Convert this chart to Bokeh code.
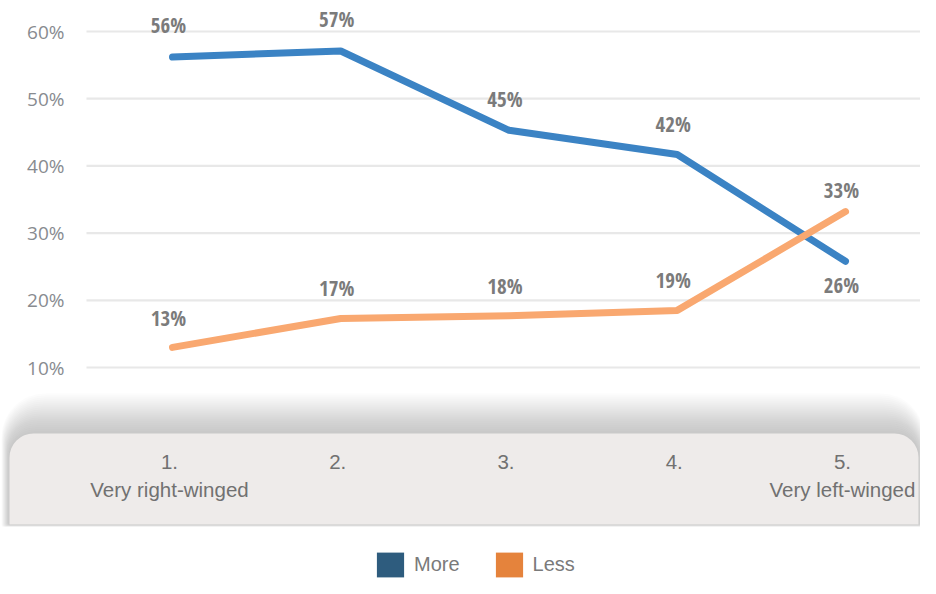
from bokeh.plotting import figure
from bokeh.models import ColumnDataSource, Range1d, BoxAnnotation, Legend, LegendItem
from bokeh.core.properties import value
from bokeh.embed import file_html
from bokeh.resources import INLINE

# ---- data ----
categories = [1, 2, 3, 4, 5]
x_tick_labels = ["1.", "2.", "3.", "4.", "5."]
x_sub_labels = ["Very right-winged", "", "", "", "Very left-winged"]
series_names = ["More", "Less"]
more_values = [56.2, 57.1, 45.3, 41.7, 25.8]
less_values = [13.0, 17.3, 17.7, 18.5, 33.2]
more_labels = ["56%", "57%", "45%", "42%", "26%"]
less_labels = ["13%", "17%", "18%", "19%", "33%"]
y_ticks = [10, 20, 30, 40, 50, 60]
y_tick_labels = ["10%", "20%", "30%", "40%", "50%", "60%"]

# ---- layout (pixels) ----
W, H = 920, 578
PX_X = 168.25          # px per category
X1_PX = 172            # px of category 1
PX_Y = 6.72            # px per percentage point
Y60_PX = 31            # px of 60 %
XA = 1 - X1_PX / PX_X
XB = XA + W / PX_X
YT = 60 + Y60_PX / PX_Y
YB = YT - H / PX_Y


def xv(px):
    return XA + px / PX_X


def yv(py):
    return YT - py / PX_Y


p = figure(width=W, height=H, output_backend="svg", toolbar_location=None,
           x_range=Range1d(XA, XB), y_range=Range1d(YB, YT),
           x_axis_location=None, y_axis_location=None,
           min_border=0, outline_line_color=None,
           background_fill_color="white", border_fill_color="white")
p.grid.visible = False

# grid lines
p.segment(x0=[xv(86)] * len(y_ticks), x1=[XB] * len(y_ticks), y0=y_ticks, y1=y_ticks,
          line_color="#e8e8e8", line_width=2.2, level="underlay")

# y tick labels
p.text(x=[xv(64)] * len(y_ticks), y=y_ticks, text=y_tick_labels,
       text_align="right", text_baseline="middle",
       text_font=value("Open Sans"), text_font_size="19px", text_color="#888b90")

# band with shadow
BAND_L, BAND_R, BAND_T, BAND_B, RAD = 9, 918, 433, 524, 24
N = 20
for k in range(N, 0, -1):
    sh = BoxAnnotation(left=xv(BAND_L - 0.4 * k), right=xv(BAND_R + 0.3 * k),
                       top=yv(BAND_T - 2.0 * k), bottom=yv(BAND_B + 0.12 * k),
                       fill_color="#707276", fill_alpha=0.024, line_color=None,
                       border_radius=(RAD + k, RAD + k, 2, 2), level="underlay")
    p.add_layout(sh)
band = BoxAnnotation(left=xv(BAND_L), right=xv(BAND_R), top=yv(BAND_T), bottom=yv(BAND_B),
                     fill_color="#eeebea", fill_alpha=1.0, line_color=None,
                     border_radius=(RAD, RAD, 0, 0), level="underlay")
p.add_layout(band)

# x labels
p.text(x=categories, y=[yv(461)] * 5, text=x_tick_labels, x_offset=-3,
       text_align="center", text_baseline="middle",
       text_font=value("Liberation Sans"), text_font_size="20.5px", text_color="#717171")
p.text(x=categories, y=[yv(489)] * 5, text=x_sub_labels, x_offset=-3,
       text_align="center", text_baseline="middle",
       text_font=value("Liberation Sans"), text_font_size="20.5px", text_color="#717171")

# lines
p.line(categories, more_values, line_color="#3b83c4", line_width=7,
       line_cap="round", line_join="round")
p.line(categories, less_values, line_color="#f9a870", line_width=7,
       line_cap="round", line_join="round")

# data labels
more_src = ColumnDataSource(dict(x=categories, y=more_values, t=more_labels,
                                 dy=[-32, -32, -31, -30, 24]))
less_src = ColumnDataSource(dict(x=categories, y=less_values, t=less_labels,
                                 dy=[-29, -30, -30, -30, -22]))
for src in (more_src, less_src):
    p.text(x="x", y="y", text="t", y_offset="dy", x_offset=-4, source=src,
           text_align="center", text_baseline="middle",
           text_font=value("Open Sans Condensed"), text_font_style="bold",
           text_font_size="21px", text_color="#7b7b7b")

# legend
r_more = p.quad(left=[XB + 1], right=[XB + 2], top=[YB - 2], bottom=[YB - 1],
                fill_color="#2e5c7e", line_color=None)
r_less = p.quad(left=[XB + 1], right=[XB + 2], top=[YB - 2], bottom=[YB - 1],
                fill_color="#e5833c", line_color=None)
legend = Legend(items=[LegendItem(label=series_names[0], renderers=[r_more]),
                       LegendItem(label=series_names[1], renderers=[r_less])],
                location=(373, -2), orientation="horizontal",
                glyph_width=34, glyph_height=31, label_standoff=7, spacing=32,
                padding=0, margin=0, border_line_color=None, background_fill_alpha=0,
                label_text_font="Liberation Sans", label_text_font_size="20px",
                label_text_color="#7a7a7a")
p.add_layout(legend)

open("out.html", "w").write(file_html(p, INLINE))
